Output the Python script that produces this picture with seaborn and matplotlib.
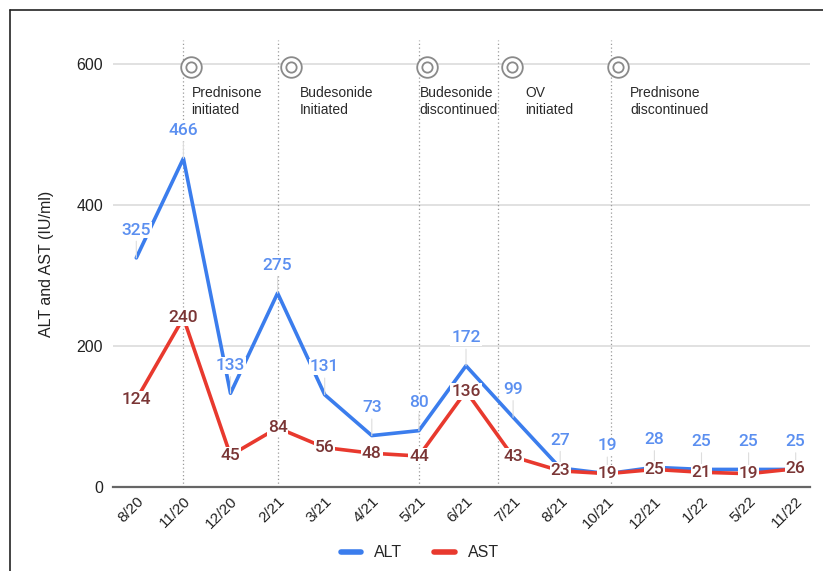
import numpy as np
import pandas as pd
import matplotlib.pyplot as plt
import seaborn as sns
from matplotlib.lines import Line2D

# data
months = ['8/20', '11/20', '12/20', '2/21', '3/21', '4/21', '5/21', '6/21',
          '7/21', '8/21', '10/21', '12/21', '1/22', '5/22', '11/22']
alt = [325, 466, 133, 275, 131, 73, 80, 172, 99, 27, 19, 28, 25, 25, 25]
ast = [124, 240, 45, 84, 56, 48, 44, 136, 43, 23, 19, 25, 21, 19, 26]

events = ['Prednisone\ninitiated', 'Budesonide\nInitiated', 'Budesonide\ndiscontinued',
          'OV\ninitiated', 'Prednisone\ndiscontinued']
event_pos = [1, 3, 6, 7.68, 10.08]
# where the icon and the note sit right of each event line (category units)
icon_off = [0.17, 0.28, 0.17, 0.30, 0.15]
text_off = [0.17, 0.47, 0.02, 0.57, 0.40]

alt_color = '#3b7ded'
ast_color = '#e8392e'
alt_lbl = '#5b8ff0'
ast_lbl = '#7a3535'

sns.set_theme(style='white')
plt.rcParams['font.family'] = ['Liberation Sans', 'DejaVu Sans']

idx = np.arange(len(months))
df = pd.DataFrame({'idx': np.concatenate([idx, idx]),
                   'value': alt + ast,
                   'series': ['ALT'] * len(alt) + ['AST'] * len(ast)})

fig = plt.figure(figsize=(8.23, 5.71), dpi=100)
ax = fig.add_axes([0.137, 0.147, 0.847, 0.783])

sns.lineplot(data=df, x='idx', y='value', hue='series',
             palette={'ALT': alt_color, 'AST': ast_color},
             linewidth=2.6, sort=False, legend=False, ax=ax, zorder=3)

ax.set_xlim(-0.5, 14.3)
ax.set_ylim(0, 634)
ax.set_yticks([0, 200, 400, 600])
ax.set_xticks(idx)
ax.set_xticklabels(months, rotation=45, ha='right', rotation_mode='anchor', fontsize=11)
ax.tick_params(axis='y', labelsize=11.5, length=0, pad=7, colors='#222222')
ax.tick_params(axis='x', length=0, pad=5, colors='#222222')
ax.set_xlabel('')
ax.set_ylabel('ALT and AST (IU/ml)', fontsize=11.5, labelpad=16, color='#222222')

for s in ['top', 'right', 'left']:
    ax.spines[s].set_visible(False)
ax.spines['bottom'].set_color('#666666')
ax.spines['bottom'].set_linewidth(1.6)
for y in [200, 400, 600]:
    ax.axhline(y, color='#dcdcdc', lw=1.2, zorder=0)

# event markers
for name, pos, io, to in zip(events, event_pos, icon_off, text_off):
    ax.axvline(pos, color='#9a9a9a', ls=(0, (1, 2)), lw=0.9, zorder=1)
    ax.scatter([pos + io], [595], s=220, facecolor='white', edgecolor='#8a8a8a',
               linewidth=1.3, zorder=4)
    ax.scatter([pos + io], [595], s=55, facecolor='white', edgecolor='#8a8a8a',
               linewidth=1.3, zorder=5)
    ax.text(pos + to, 569, name, fontsize=10, color='#2a2a2a', va='top', ha='left',
            linespacing=1.3)

# data labels
for i, v in enumerate(alt):
    ax.annotate(str(v), (i, v), xytext=(0, 20), textcoords='offset points',
                ha='center', va='center', fontsize=12.5, color=alt_lbl,
                family=['Roboto', 'DejaVu Sans'], weight='medium',
                bbox=dict(boxstyle='square,pad=0.05', fc='white', ec='none'),
                arrowprops=dict(arrowstyle='-', color='#dddddd', lw=0.8,
                                shrinkA=2, shrinkB=0), zorder=6)
for i, v in enumerate(ast):
    ax.annotate(str(v), (i, v), xytext=(0, 0), textcoords='offset points',
                ha='center', va='center', fontsize=12.5, color=ast_lbl,
                family=['Roboto', 'DejaVu Sans'], weight='medium',
                bbox=dict(boxstyle='square,pad=0.05', fc='white', ec='none'), zorder=6)

handles = [Line2D([], [], color=alt_color, lw=4), Line2D([], [], color=ast_color, lw=4)]
fig.legend(handles, ['ALT', 'AST'], loc='center', bbox_to_anchor=(0.51, 0.032),
           ncol=2, frameon=False, fontsize=11.5, handlelength=1.3, columnspacing=2.0)

# frame around the picture (left and top only)
fig.add_artist(Line2D([0.012, 0.012], [0, 0.983], color='#222222', lw=1.2,
                      transform=fig.transFigure))
fig.add_artist(Line2D([0.012, 1.0], [0.983, 0.983], color='#222222', lw=1.2,
                      transform=fig.transFigure))

plt.savefig('out.png', dpi=100)
